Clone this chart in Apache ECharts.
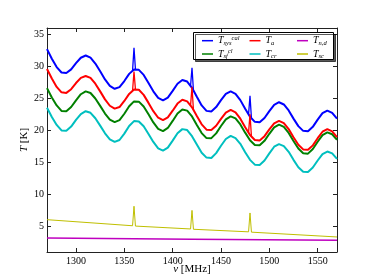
<!DOCTYPE html>
<html><head><meta charset="utf-8">
<script src="https://cdn.jsdelivr.net/npm/echarts@6/dist/echarts.min.js"></script>
<style>html,body{margin:0;padding:0;background:#fff}#c{width:374px;height:280px}</style>
</head><body><div id="c"></div>
<script>
// frequency grid (MHz), 5 MHz steps, for the four oscillating curves
const freq = [1270,1275,1280,1285,1290,1295,1300,1305,1310,1315,1320,1325,1330,1335,1340,1345,1350,1355,1360,1365,1370,1375,1380,1385,1390,1395,1400,1405,1410,1415,1420,1425,1430,1435,1440,1445,1450,1455,1460,1465,1470,1475,1480,1485,1490,1495,1500,1505,1510,1515,1520,1525,1530,1535,1540,1545,1550,1555,1560,1565,1570];
const blue  = [32.7,31.2,29.9,29.05,28.96,29.54,30.5,31.35,31.7,31.37,30.45,29.23,27.97,26.97,26.5,26.76,27.71,28.83,29.53,29.46,28.67,27.42,26.11,25.08,24.7,25.13,26.18,27.29,27.88,27.63,26.65,25.25,23.9,23.05,22.96,23.64,24.72,25.7,26.1,25.72,24.73,23.38,22.13,21.34,21.26,21.94,23.02,24.0,24.4,24.05,23.11,21.84,20.67,19.93,19.87,20.56,21.68,22.69,23.1,22.75,21.84];
const red   = [29.6,28.1,26.8,25.95,25.86,26.44,27.4,28.2,28.5,28.2,27.3,26.1,24.85,23.85,23.4,23.65,24.6,25.7,26.4,26.35,25.55,24.3,23.0,21.98,21.6,22.03,23.08,24.19,24.78,24.53,23.6,22.25,20.95,20.12,20.05,20.72,21.8,22.78,23.2,22.82,21.83,20.5,19.28,18.5,18.42,19.1,20.15,21.1,21.5,21.15,20.2,18.94,17.77,17.03,16.97,17.66,18.78,19.79,20.2,19.85,18.95];
const green = [26.6,25.15,23.9,23.05,22.99,23.66,24.7,25.65,26.1,25.84,24.98,23.83,22.63,21.69,21.29,21.6,22.6,23.78,24.53,24.49,23.74,22.52,21.25,20.25,19.9,20.38,21.48,22.63,23.27,23.09,22.18,20.86,19.58,18.8,18.79,19.54,20.69,21.73,22.2,21.87,20.94,19.65,18.46,17.72,17.67,18.37,19.47,20.48,20.9,20.55,19.61,18.34,17.17,16.43,16.37,17.09,18.23,19.27,19.7,19.4,18.54];
const cyan  = [23.55,22.1,20.85,20.0,19.94,20.6,21.65,22.55,23.0,22.75,21.9,20.75,19.55,18.6,18.2,18.5,19.5,20.7,21.45,21.4,20.65,19.45,18.2,17.2,16.85,17.3,18.4,19.55,20.2,20.05,19.1,17.8,16.5,15.75,15.7,16.45,17.6,18.65,19.15,18.8,17.9,16.6,15.4,14.65,14.6,15.3,16.4,17.45,17.85,17.55,16.65,15.4,14.25,13.55,13.5,14.2,15.3,16.3,16.7,16.4,15.55];
// narrow RFI spikes ('-' breaks the line between spikes)
const spikeFreq = [1358.5,1360,1361.5,1390,1418.5,1420,1421.5,1450,1478.5,1480,1481.5];
const blueSpike = [29.32,32.9,29.56,'-',26.94,29.8,26.23,'-',22.5,25.4,21.89];
const redSpike  = [26.19,29.2,26.39,'-',23.88,26.8,23.2,'-',19.65,22.5,19.05];
// magenta and yellow curves
const magFreq = [1270,1420,1570];
const magenta = [3.2,3.0,2.85];
const yelFreq = [1270,1358.5,1360,1361.5,1418.5,1420,1421.5,1478.5,1480,1481.5,1570];
const yellow  = [6.05,5.1,8.15,5.05,4.6,7.5,4.55,4.15,7.1,4.1,3.35];
// ticks
const xTicks = [1300,1350,1400,1450,1500,1550];
const yTicks = [5,10,15,20,25,30,35];

const pairs = (xs, ys) => xs.map((x,i)=>[x, ys[i]]);
const FONT = 'Liberation Serif';
const C = {b:'#0000ff', r:'#ff0000', g:'#008000', c:'#00bfbf', m:'#bf00bf', y:'#bfbf00'};

const labels = {
  Tsyscal: '{t|T}{sb|sys}{sp|cal}',
  Ta: '{t|T}{sb|a}',
  Tnd: '{t|T}{sb|n,d}',
  Tsfcal: '{t|T}{sb|sf}{sp|cl}',
  Tcr: '{t|T}{sb|cr}',
  Tsc: '{t|T}{sb|sc}'
};
const rich = {
  t:{fontFamily:FONT,fontStyle:'italic',fontSize:10,lineHeight:12,color:'#000'},
  sb:{fontFamily:FONT,fontStyle:'italic',fontSize:6.5,lineHeight:12,verticalAlign:'bottom',color:'#000'},
  sp:{fontFamily:FONT,fontStyle:'italic',fontSize:6.5,lineHeight:12,verticalAlign:'top',color:'#000'}
};
function legendCol(left, names){
  return {orient:'vertical', left:left, top:34.7, itemGap:1.3, padding:0,
    icon:'rect', itemWidth:11, itemHeight:1.5, data:names, selectedMode:false,
    formatter: n => labels[n], textStyle:{rich:rich, lineHeight:12}, z:6};
}
const axisCommon = {
  axisLine:{show:true, onZero:false, lineStyle:{color:'#222', width:1}},
  splitLine:{show:false}
};
const line = (name, xs, ys, color, w) => ({
  name, type:'line', data:pairs(xs, ys), showSymbol:false, symbol:'none',
  smooth:false, lineStyle:{color, width:w}, itemStyle:{color}, connectNulls:false,
  emphasis:{disabled:true}
});

const chart = echarts.init(document.getElementById('c'), null, {renderer:'canvas'});
chart.setOption({
  animation:false,
  backgroundColor:'#fff',
  grid:{left:47, right:37, top:28, bottom:28},
  xAxis:[
    Object.assign({type:'value', min:1270, max:1570, position:'bottom',
      axisTick:{inside:true, length:4, customValues:xTicks, lineStyle:{color:'#222'}},
      axisLabel:{customValues:xTicks, formatter:v=>String(v), fontFamily:FONT, fontSize:10, color:'#000', margin:4},
      name:'{g|ν} [MHz]', nameLocation:'middle', nameGap:12, nameMoveOverlap:false,
      nameTextStyle:{fontFamily:FONT, fontSize:11, color:'#000', rich:{g:{fontFamily:FONT,fontStyle:'italic',fontSize:11,color:'#000'}}}
    }, axisCommon),
    Object.assign({type:'value', min:1270, max:1570, position:'top',
      axisTick:{inside:true, length:4, customValues:xTicks, lineStyle:{color:'#222'}},
      axisLabel:{show:false}}, axisCommon)
  ],
  yAxis:[
    Object.assign({type:'value', min:1, max:36, position:'left',
      axisTick:{inside:true, length:4, customValues:yTicks, lineStyle:{color:'#222'}},
      axisLabel:{customValues:yTicks, formatter:v=>String(v), fontFamily:FONT, fontSize:10, color:'#000', margin:3},
      name:'{i|T} [K]', nameLocation:'middle', nameGap:17, nameMoveOverlap:false,
      nameTextStyle:{fontFamily:FONT, fontSize:11, color:'#000', rich:{i:{fontFamily:FONT,fontStyle:'italic',fontSize:11,color:'#000'}}}
    }, axisCommon),
    Object.assign({type:'value', min:1, max:36, position:'right',
      axisTick:{inside:true, length:4, customValues:yTicks, lineStyle:{color:'#222'}},
      axisLabel:{show:false}}, axisCommon)
  ],
  legend:[
    legendCol(202, ['Tsyscal','Tsfcal']),
    legendCol(249.5, ['Ta','Tcr']),
    legendCol(297, ['Tnd','Tsc'])
  ],
  graphic:[{type:'rect', shape:{x:193.5, y:32.5, width:140, height:27}, z:5,
    style:{fill:'#fff', stroke:'#000', lineWidth:1, shadowColor:'rgba(0,0,0,0.65)', shadowOffsetX:2, shadowOffsetY:2, shadowBlur:0}}],
  series:[
    line('Tsyscal', freq, blue, C.b, 2),
    line('Tsfcal', freq, green, C.g, 2),
    line('Tcr', freq, cyan, C.c, 2),
    line('Ta', freq, red, C.r, 2),
    line('blueSpike', spikeFreq, blueSpike, C.b, 1.3),
    line('redSpike', spikeFreq, redSpike, C.r, 1.3),
    line('Tnd', magFreq, magenta, C.m, 1.5),
    line('Tsc', yelFreq, yellow, C.y, 1)
  ]
});
</script></body></html>
